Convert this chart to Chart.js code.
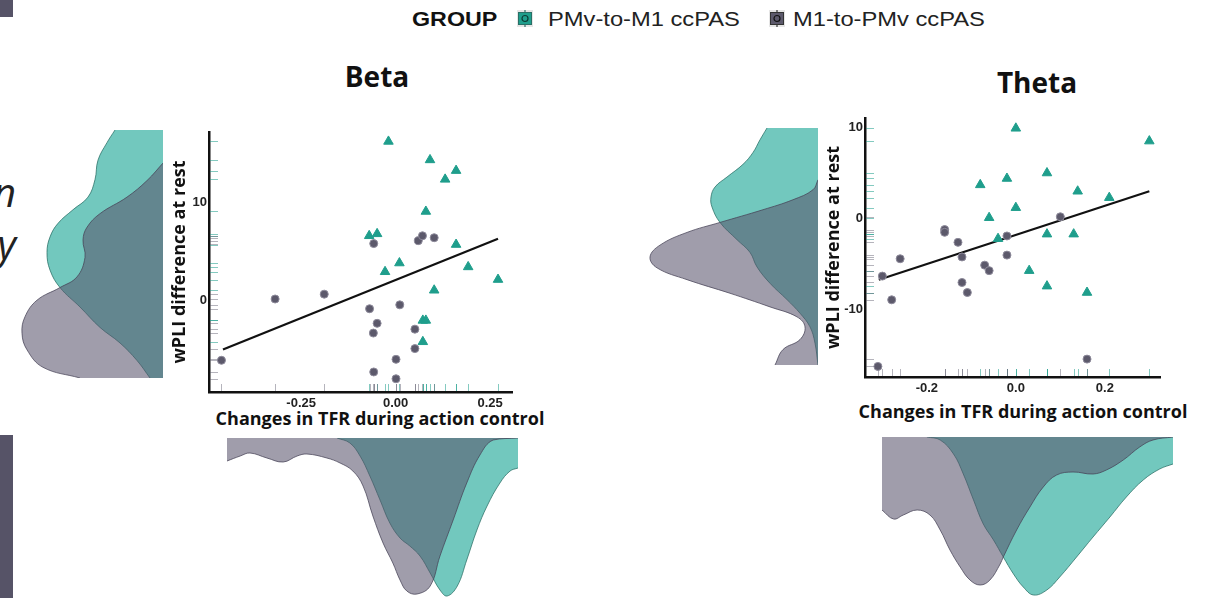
<!DOCTYPE html>
<html>
<head>
<meta charset="utf-8">
<script src="https://cdn.jsdelivr.net/npm/chart.js@4.4.1/dist/chart.umd.min.js"></script>
<style>
  body { margin: 0; background: #fff; width: 1221px; height: 598px; overflow: hidden; position: relative; font-family: 'Open Sans', sans-serif; color: #111; }
  .box { position: absolute; }
  .bar { position: absolute; left: 0; width: 13px; background: #565367; }
  .ttl { position: absolute; font-weight: bold; white-space: nowrap; text-align: center; }
  .leg { position: absolute; top: 6px; font-family: 'Liberation Sans', Arial, sans-serif; font-size: 20px; color: #222; white-space: nowrap; transform-origin: left center; line-height: 26px; }
  .icon { position: absolute; top: 10px; }
</style>
</head>
<body>

<!-- bits of the slide that are cut off at the left edge -->
<div class="bar" style="top:0;height:17px"></div>
<div class="bar" style="top:435px;height:163px"></div>
<div style="position:absolute; right:1205px; top:166px; font: italic 40px 'Open Sans'; line-height:52px; text-align:right; color:#222;">n<br>y</div>

<!-- legend -->
<div class="leg" id="lg0" style="left:412px;font-weight:bold;color:#111">GROUP</div>
<svg class="icon" style="left:517px" width="16" height="17"><rect width="16" height="17" fill="#e6e6e6"/><line x1="8" y1="0" x2="8" y2="17" stroke="#2a6f66" stroke-width="1.2"/><rect x="1.5" y="2.5" width="13" height="12" fill="#1f9e8c" stroke="#2a6f66"/><circle cx="8" cy="8.5" r="3" fill="none" stroke="#0b3b35" stroke-width="1.2"/></svg>
<div class="leg" id="lg1" style="left:548px">PMv-to-M1 ccPAS</div>
<svg class="icon" style="left:769px" width="16" height="17"><rect width="16" height="17" fill="#e6e6e6"/><line x1="8" y1="0" x2="8" y2="17" stroke="#333" stroke-width="1.2"/><rect x="1.5" y="2.5" width="13" height="12" fill="#5c596b" stroke="#333"/><circle cx="8" cy="8.5" r="3" fill="none" stroke="#111" stroke-width="1.2"/></svg>
<div class="leg" id="lg2" style="left:793px">M1-to-PMv ccPAS</div>

<!-- panel titles -->
<div class="ttl" style="left:277px;top:57px;width:200px;font-size:28px">Beta</div>
<div class="ttl" style="left:937px;top:63px;width:200px;font-size:28px">Theta</div>
<div class="ttl" style="left:180px;top:406px;width:400px;font-size:18px">Changes in TFR during action control</div>
<div class="ttl" style="left:823px;top:399px;width:400px;font-size:18px">Changes in TFR during action control</div>

<div class="box" style="left:165px;top:120px;width:365px;height:297px"><canvas id="betaScatter"></canvas></div>
<div class="box" style="left:819px;top:105px;width:361px;height:297px"><canvas id="thetaScatter"></canvas></div>
<div class="box" style="left:0px;top:130px;width:163px;height:248px"><canvas id="betaLeft"></canvas></div>
<div class="box" style="left:648px;top:128px;width:170px;height:237px"><canvas id="thetaLeft"></canvas></div>
<div class="box" style="left:227px;top:438px;width:291px;height:160px"><canvas id="betaBottom"></canvas></div>
<div class="box" style="left:882px;top:437px;width:291px;height:160px"><canvas id="thetaBottom"></canvas></div>

<script>
// ---- Beta scatter ----
const betaPmX = [-0.019, 0.091, 0.160, 0.131, 0.080, -0.070, -0.049, 0.160, 0.010, -0.028, 0.192, 0.271, 0.102, 0.072, 0.080, 0.072];
const betaPmY = [16.3, 14.4, 13.3, 12.4, 9.1, 6.6, 6.8, 5.7, 3.8, 2.9, 3.4, 2.1, 1.0, -2.1, -2.1, -4.3];
const betaM1X = [-0.461, -0.319, -0.189, -0.058, 0.060, 0.071, 0.102, -0.069, 0.011, -0.049, -0.059, 0.051, 0.051, 0.001, -0.058, 0.001];
const betaM1Y = [-6.2, 0.1, 0.6, 5.8, 6.1, 6.6, 6.4, -0.9, -0.5, -2.4, -3.4, -3.0, -5.0, -6.1, -7.4, -8.1];
const betaFitX = [-0.457, 0.271];
const betaFitY = [-5.1, 6.3];
const betaXTicks = [-0.25, 0, 0.25];
const betaYTicks = [0, 10];

// ---- Theta scatter ----
const thetaPmX = [0.000, 0.300, 0.070, -0.020, -0.080, 0.139, 0.210, 0.000, -0.060, 0.070, 0.130, -0.040, 0.030, 0.070, 0.160];
const thetaPmY = [9.9, 8.5, 5.0, 4.4, 3.7, 3.0, 2.3, 1.2, 0.1, -1.7, -1.7, -2.2, -5.7, -7.4, -8.1];
const thetaM1X = [-0.310, -0.300, -0.279, -0.260, -0.160, -0.160, -0.130, -0.121, -0.121, -0.109, -0.070, -0.060, -0.020, -0.020, 0.100, 0.160];
const thetaM1Y = [-16.2, -6.3, -8.9, -4.4, -1.2, -1.5, -2.6, -4.2, -7.0, -8.1, -5.1, -5.7, -1.9, -4.0, 0.2, -15.4];
const thetaFitX = [-0.308, 0.300];
const thetaFitY = [-6.7, 3.0];
const thetaXTicks = [-0.2, 0, 0.2];
const thetaYTicks = [-10, 0, 10];

// ---- densities (value on the axis, density height) ----
const betaLeftTealVal = [17.5, 16.2, 14.4, 12.4, 10.6, 9.3, 7.9, 6.5, 4.9, 3.1, 1.3, -0.7, -2.8, -4.4, -6.2, -8.0];
const betaLeftTealDen = [0.48, 0.56, 0.65, 0.68, 0.75, 0.90, 1.05, 1.13, 1.16, 1.13, 1.03, 0.83, 0.63, 0.43, 0.26, 0.13];
const betaLeftGreyVal = [14.1, 12.3, 10.6, 8.9, 7.5, 6.2, 4.4, 2.4, 1.3, 0.0, -1.7, -3.4, -5.1, -6.9, -8.0];
const betaLeftGreyDen = [0.00, 0.16, 0.36, 0.63, 0.76, 0.80, 0.78, 0.86, 1.03, 1.26, 1.38, 1.41, 1.36, 1.20, 0.83];

const thetaLeftTealVal = [10.0, 8.7, 7.3, 6.0, 4.6, 3.5, 2.4, 1.3, -0.4, -2.3, -3.7, -5.3, -7.1, -8.9, -10.4, -11.9, -13.7, -16.1];
const thetaLeftTealDen = [0.51, 0.58, 0.65, 0.75, 0.91, 1.03, 1.07, 1.06, 0.98, 0.81, 0.68, 0.61, 0.48, 0.31, 0.18, 0.08, 0.03, 0.00];
const thetaLeftGreyVal = [4.3, 3.2, 2.1, 1.0, -0.4, -1.5, -2.9, -4.2, -5.4, -6.7, -8.2, -9.7, -10.8, -11.9, -13.3, -14.4, -16.1];
const thetaLeftGreyDen = [0.00, 0.05, 0.25, 0.55, 0.98, 1.31, 1.58, 1.68, 1.61, 1.31, 0.88, 0.48, 0.21, 0.13, 0.18, 0.35, 0.43];

const betaBotGreyVal = [-0.447, -0.412, -0.386, -0.341, -0.298, -0.261, -0.235, -0.182, -0.147, -0.113, -0.086, -0.060, -0.033, -0.007, 0.012, 0.030, 0.057, 0.092, 0.118, 0.153, 0.189, 0.224, 0.259, 0.325];
const betaBotGreyDen = [0.23, 0.18, 0.15, 0.20, 0.24, 0.18, 0.16, 0.20, 0.25, 0.33, 0.48, 0.78, 1.05, 1.25, 1.42, 1.53, 1.56, 1.48, 1.18, 0.82, 0.45, 0.17, 0.02, 0.00];
const betaBotTealVal = [-0.155, -0.121, -0.094, -0.068, -0.041, -0.015, 0.012, 0.038, 0.065, 0.092, 0.118, 0.137, 0.164, 0.189, 0.216, 0.243, 0.277, 0.304, 0.325];
const betaBotTealDen = [0.00, 0.05, 0.18, 0.38, 0.62, 0.85, 1.00, 1.08, 1.18, 1.35, 1.52, 1.58, 1.48, 1.22, 0.92, 0.68, 0.45, 0.33, 0.30];

const thetaBotGreyVal = [-0.301, -0.275, -0.253, -0.222, -0.193, -0.170, -0.148, -0.125, -0.103, -0.080, -0.058, -0.035, -0.028, 0.002, 0.032, 0.062, 0.092, 0.129, 0.174, 0.204, 0.242, 0.279, 0.309, 0.354];
const thetaBotGreyDen = [0.73, 0.82, 0.78, 0.73, 0.78, 0.93, 1.13, 1.30, 1.43, 1.48, 1.43, 1.27, 1.20, 0.93, 0.70, 0.50, 0.38, 0.35, 0.37, 0.33, 0.23, 0.10, 0.03, 0.00];
const thetaBotTealVal = [-0.200, -0.170, -0.140, -0.118, -0.095, -0.073, -0.050, -0.028, -0.005, 0.017, 0.040, 0.070, 0.099, 0.137, 0.174, 0.212, 0.249, 0.287, 0.324, 0.354];
const thetaBotTealDen = [0.00, 0.03, 0.17, 0.37, 0.63, 0.87, 1.03, 1.20, 1.37, 1.50, 1.58, 1.53, 1.40, 1.20, 1.00, 0.80, 0.60, 0.43, 0.32, 0.27];

const tealPoint = '#1f9e8c';
const greyPoint = '#5c596b';
const tealFill = 'rgba(38,170,155,0.65)';
const greyFill = 'rgba(88,82,107,0.57)';

function pairs(xs, ys) {
    return xs.map(function(x, i) { return {x: x, y: ys[i]}; });
}

// short rug lines along both axes
const rugPlugin = {
    id: 'rug',
    beforeDatasetsDraw(chart) {
        const ctx = chart.ctx, area = chart.chartArea;
        const xs = chart.scales.x, ys = chart.scales.y;
        chart.data.datasets.forEach(function(ds) {
            if (!ds.rugColor) return;
            ctx.save();
            ctx.strokeStyle = ds.rugColor;
            ctx.lineWidth = 1;
            ds.data.forEach(function(p) {
                const px = Math.round(xs.getPixelForValue(p.x)) + 0.5;
                const py = Math.round(ys.getPixelForValue(p.y)) + 0.5;
                ctx.beginPath();
                ctx.moveTo(px, area.bottom - 1);
                ctx.lineTo(px, area.bottom - 8);
                ctx.moveTo(area.left + 1, py);
                ctx.lineTo(area.left + 9, py);
                ctx.stroke();
            });
            ctx.restore();
        });
    }
};

function scatterChart(id, pm, m1, fit, xr, yr, xTicks, yTicks, dec, pad, yWidth) {
    const tickFont = {family: "'Liberation Sans', Arial, sans-serif", size: 13, weight: 'bold'};
    return new Chart(document.getElementById(id), {
        type: 'scatter',
        data: {
            datasets: [
                {label: 'PMv-to-M1 ccPAS', data: pm, pointStyle: 'triangle', pointRadius: 5.5,
                 backgroundColor: tealPoint, borderColor: tealPoint, borderWidth: 1, rugColor: 'rgba(31,158,140,0.55)'},
                {label: 'M1-to-PMv ccPAS', data: m1, pointStyle: 'circle', pointRadius: 4,
                 backgroundColor: greyPoint, borderColor: '#8d8a9a', borderWidth: 1, rugColor: 'rgba(92,89,107,0.45)'},
                {label: 'fit', data: fit, showLine: true, pointRadius: 0, borderColor: '#111', borderWidth: 2.2}
            ]
        },
        options: {
            animation: false,
            responsive: true,
            maintainAspectRatio: false,
            layout: {padding: pad},
            plugins: {legend: {display: false}, tooltip: {enabled: false}},
            scales: {
                x: {
                    type: 'linear', min: xr[0], max: xr[1],
                    grid: {display: false, drawTicks: false},
                    border: {display: true, color: '#111', width: 2.5},
                    afterBuildTicks: function(s) { s.ticks = xTicks.map(function(v) { return {value: v}; }); },
                    afterFit: function(s) { s.height = 25; },
                    ticks: {font: tickFont, color: '#222', padding: 4, maxRotation: 0,
                            callback: function(v) { return Number(v).toFixed(dec); }}
                },
                y: {
                    type: 'linear', min: yr[0], max: yr[1],
                    grid: {display: false, drawTicks: false},
                    border: {display: true, color: '#111', width: 2.5},
                    afterBuildTicks: function(s) { s.ticks = yTicks.map(function(v) { return {value: v}; }); },
                    afterFit: function(s) { s.width = yWidth; },
                    ticks: {font: tickFont, color: '#222', padding: 2},
                    title: {display: true, text: 'wPLI difference at rest', color: '#111',
                            font: {family: "'Open Sans', sans-serif", size: 18, weight: 'bold'}, padding: {top: 4, bottom: 0}}
                }
            }
        },
        plugins: [rugPlugin]
    });
}

function densityChart(id, vertical, tVal, tDen, gVal, gDen, valMin, valMax, denMax) {
    const pts = function(v, d) {
        return v.map(function(val, i) { return vertical ? {x: d[i], y: val} : {x: val, y: d[i]}; });
    };
    const valScale = {type: 'linear', min: valMin, max: valMax, display: false};
    const denScale = {type: 'linear', min: 0, max: denMax, reverse: true, display: false};
    return new Chart(document.getElementById(id), {
        type: 'line',
        data: {
            datasets: [
                {label: 'M1-to-PMv ccPAS', data: pts(gVal, gDen), fill: 'origin', backgroundColor: greyFill,
                 borderColor: 'rgba(70,65,85,0.75)', borderWidth: 1, pointRadius: 0, tension: 0.4},
                {label: 'PMv-to-M1 ccPAS', data: pts(tVal, tDen), fill: 'origin', backgroundColor: tealFill,
                 borderColor: 'rgba(40,110,100,0.75)', borderWidth: 1, pointRadius: 0, tension: 0.4}
            ]
        },
        options: {
            indexAxis: vertical ? 'y' : 'x',
            animation: false,
            responsive: true,
            maintainAspectRatio: false,
            layout: {padding: 0},
            plugins: {legend: {display: false}, tooltip: {enabled: false}},
            scales: vertical ? {x: denScale, y: valScale} : {x: valScale, y: denScale}
        }
    });
}

scatterChart('betaScatter', pairs(betaPmX, betaPmY), pairs(betaM1X, betaM1Y), pairs(betaFitX, betaFitY),
    [-0.494, 0.308], [-9.46, 17.27], betaXTicks, betaYTicks, 2, {top: 12, right: 18, left: 0, bottom: 0}, 44);
scatterChart('thetaScatter', pairs(thetaPmX, thetaPmY), pairs(thetaM1X, thetaM1Y), pairs(thetaFitX, thetaFitY),
    [-0.339, 0.324], [-17.36, 11.03], thetaXTicks, thetaYTicks, 1, {top: 13, right: 20, left: 0, bottom: 0}, 46);

densityChart('betaLeft', true, betaLeftTealVal, betaLeftTealDen, betaLeftGreyVal, betaLeftGreyDen, -8.0, 17.5, 1.63);
densityChart('thetaLeft', true, thetaLeftTealVal, thetaLeftTealDen, thetaLeftGreyVal, thetaLeftGreyDen, -16.1, 10.0, 1.70);
densityChart('betaBottom', false, betaBotTealVal, betaBotTealDen, betaBotGreyVal, betaBotGreyDen, -0.447, 0.325, 1.60);
densityChart('thetaBottom', false, thetaBotTealVal, thetaBotTealDen, thetaBotGreyVal, thetaBotGreyDen, -0.301, 0.354, 1.60);

// legend text in the figure is drawn a little wide
[['lg0', 85], ['lg1', 192], ['lg2', 192]].forEach(function(a) {
    var el = document.getElementById(a[0]);
    el.style.transform = 'scaleX(' + (a[1] / el.offsetWidth) + ')';
});
</script>
</body>
</html>
